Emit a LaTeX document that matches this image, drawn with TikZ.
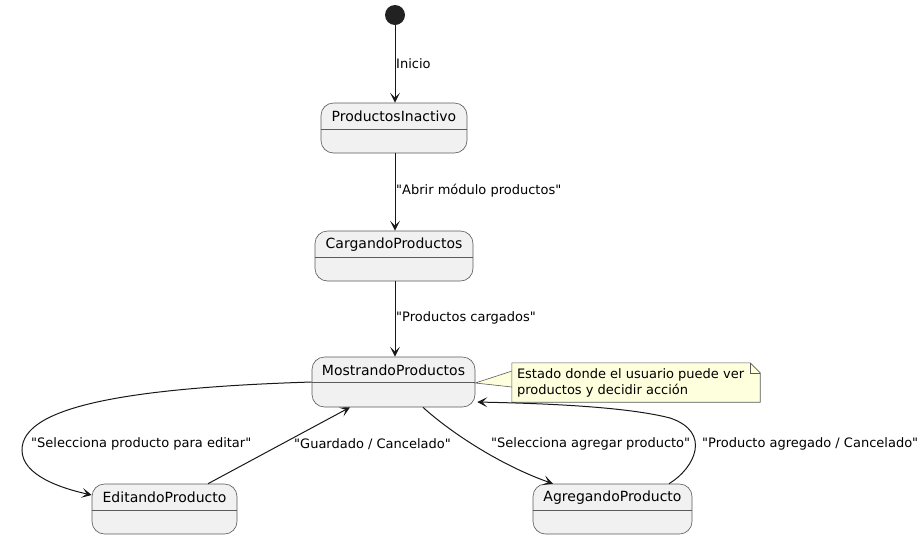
\documentclass[tikz,border=0pt]{standalone}
\usepackage{fontspec}
\setmainfont{DejaVu Sans}[Ligatures=TeXOff]
\usetikzlibrary{arrows.meta}
\definecolor{stfill}{HTML}{F1F1F1}
\definecolor{stline}{HTML}{181818}
\definecolor{boxline}{HTML}{5A5A5A}
\definecolor{notefill}{HTML}{FEFFDD}
\definecolor{startfill}{HTML}{222222}
\tikzset{
  umlstate/.style={draw=boxline, fill=stfill, line width=0.6pt, rounded corners=12.5pt, inner sep=0pt},
  sttitle/.style={font=\fontsize{14}{16}\selectfont, inner sep=0pt},
  divider/.style={draw=boxline, line width=0.6pt},
  arr/.style={draw=stline, line width=1pt, -{Stealth[length=10pt,width=10pt,inset=5pt]}},
  elabel/.style={font=\fontsize{13}{15}\selectfont, inner sep=0pt, anchor=west},
  notestyle/.style={draw=boxline, fill=notefill, line width=0.6pt},
}
\begin{document}
\begin{tikzpicture}[x=1pt,y=-1pt]
\useasboundingbox (0,0) rectangle (924,539);

% start
\node[circle, fill=startfill, minimum size=20pt, inner sep=0pt] (start) at (395,15) {};

% states
\node[umlstate, minimum width=146pt, minimum height=50pt] (pi) at (394,128) {};
\node[sttitle] (pit) at ([yshift=-13.5pt]pi.north) {ProductosInactivo};
\draw[divider] ([yshift=-27pt]pi.north west) -- ([yshift=-27pt]pi.north east);

\node[umlstate, minimum width=158pt, minimum height=50pt] (cp) at (394,256) {};
\node[sttitle] (cpt) at ([yshift=-13.5pt]cp.north) {CargandoProductos};
\draw[divider] ([yshift=-27pt]cp.north west) -- ([yshift=-27pt]cp.north east);

\node[umlstate, minimum width=163pt, minimum height=50pt] (mp) at (393.5,382) {};
\node[sttitle] (mpt) at ([yshift=-13.5pt]mp.north) {MostrandoProductos};
\draw[divider] ([yshift=-26pt]mp.north west) -- ([yshift=-26pt]mp.north east);

\node[umlstate, minimum width=145pt, minimum height=50pt] (ep) at (164.5,509) {};
\node[sttitle] (ept) at ([yshift=-13.5pt]ep.north) {EditandoProducto};
\draw[divider] ([yshift=-27pt]ep.north west) -- ([yshift=-27pt]ep.north east);

\node[umlstate, minimum width=159pt, minimum height=50pt] (ap) at (612.5,509) {};
\node[sttitle] (apt) at ([yshift=-13.5pt]ap.north) {AgregandoProducto};
\draw[divider] ([yshift=-27pt]ap.north west) -- ([yshift=-27pt]ap.north east);

% note
\coordinate (nlink) at ([yshift=-1pt]mp.east);
\node[minimum width=248pt, minimum height=39pt, inner sep=0pt] (note) at (636,382.5) {};
\fill[notefill] (nlink) -- (512,371) -- (512,387) -- cycle;
\draw[boxline, line width=0.6pt] (512,371) -- (nlink) -- (512,387);
\draw[notestyle] (note.north west) -- ([xshift=-10pt]note.north east) -- ([yshift=-10pt]note.north east)
  -- (note.south east) -- (note.south west) -- cycle;
\draw[boxline, line width=0.6pt] ([xshift=-10pt]note.north east) -- ([xshift=-10pt,yshift=-10pt]note.north east) -- ([yshift=-10pt]note.north east);
\node[font=\fontsize{13}{16}\selectfont, align=left, anchor=west, inner sep=0pt] (notetext) at ([xshift=5pt]note.west)
  {Estado donde el usuario puede ver\\productos y decidir acción};

% transitions
\draw[arr] (start) -- (start |- pi.north);
\node[elabel] (l1) at (396,64) {Inicio};

\draw[arr] (pi.south -| start) -- (cp.north -| start);
\node[elabel] (l2) at (396,191) {"Abrir módulo productos"};

\draw[arr] (cp.south -| start) -- (mp.north -| start);
\node[elabel] (l3) at (396,318) {"Productos cargados"};

\draw[arr] (mp.west) .. controls (120,388) and (22,408) .. (22,450)
  .. controls (22,475) and (60,488) .. ([yshift=14pt]ep.west);
\node[elabel] (l4) at (31,444) {"Selecciona producto para editar"};

\draw[arr] ([xshift=43.5pt]ep.north) -- ([xshift=-43.5pt]mp.south);
\node[elabel] (l5) at (294,444) {"Guardado / Cancelado"};

\draw[arr] ([xshift=29.5pt]mp.south) .. controls (450,432) and (500,465) .. ([xshift=-59.5pt]ap.north);
\node[elabel] (l6) at (491,444) {"Selecciona agregar producto"};

\draw[arr] ([xshift=56.5pt]ap.north) .. controls (695,468) and (712,432) .. (670,418)
  .. controls (620,405) and (520,403) .. ([xshift=2pt,yshift=-20pt]mp.east);
\node[elabel] (l7) at (702,444) {"Producto agregado / Cancelado"};
\end{tikzpicture}
\end{document}
